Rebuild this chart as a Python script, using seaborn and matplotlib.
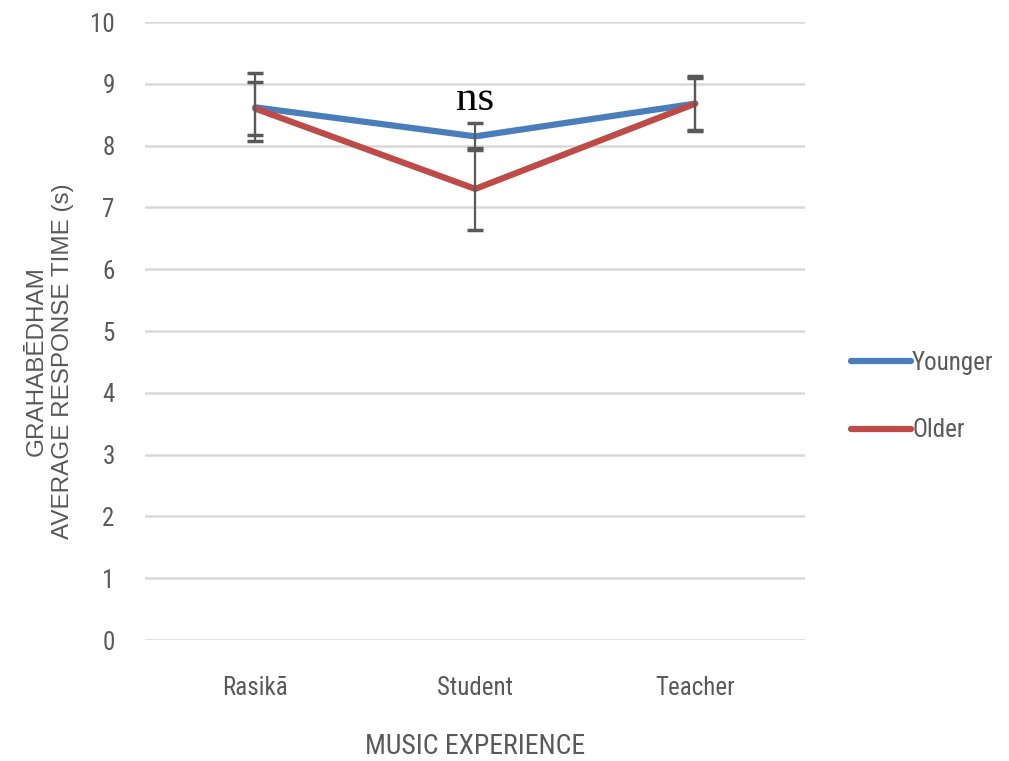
import numpy as np
import pandas as pd
import seaborn as sns
import matplotlib.pyplot as plt
from matplotlib.font_manager import FontProperties

# values
categories = ['Rasikā', 'Student', 'Teacher']
younger_mean = [8.62, 8.15, 8.68]
younger_err = [0.55, 0.22, 0.42]
older_mean = [8.60, 7.30, 8.68]
older_err = [0.43, 0.66, 0.44]
y_ticks = list(range(0, 11))

sns.set_theme(style='white')
plt.rcParams['font.family'] = ['Roboto Condensed', 'DejaVu Sans']

df = pd.DataFrame({
    'experience': categories * 2,
    'time': younger_mean + older_mean,
    'group': ['Younger'] * 3 + ['Older'] * 3,
})

blue = '#4a7ebb'
red = '#be4b48'
grey = '#595959'

fig = plt.figure(figsize=(10.09, 7.61), dpi=100)
ax = fig.add_axes([0.144, 0.159, 0.654, 0.812])

sns.lineplot(data=df, x='experience', y='time', hue='group',
             palette={'Younger': blue, 'Older': red}, linewidth=4.5,
             sort=False, ax=ax, zorder=3)

x_pos = np.arange(len(categories))
for means, errs in [(younger_mean, younger_err), (older_mean, older_err)]:
    ax.errorbar(x_pos, means, yerr=errs, fmt='none', ecolor=grey,
                elinewidth=1.6, capsize=6, capthick=2.5, zorder=4)

ax.set_xlim(-0.5, 2.5)
ax.set_ylim(0, 10)
ax.set_yticks(y_ticks)
ax.yaxis.grid(True, color='#d9d9d9', linewidth=1.8)
ax.set_axisbelow(True)
for s in ax.spines.values():
    s.set_visible(False)
ax.tick_params(axis='both', length=0, labelsize=18, labelcolor=grey)
ax.tick_params(axis='y', pad=22)
ax.tick_params(axis='x', pad=26)

ax.set_xlabel('MUSIC EXPERIENCE', fontsize=20, color=grey, labelpad=24)
ax.set_ylabel('')
ylab_font = FontProperties(family='Liberation Sans', size=17.5)
fig.text(0.0496, 0.526, 'GRAHABĒDHAM\nAVERAGE RESPONSE TIME (s)', rotation=90,
         ha='center', va='center', color=grey,
         fontproperties=ylab_font, linespacing=1.25)

ns_font = FontProperties(family='Liberation Serif', size=31)
ax.text(1, 8.75, 'ns', ha='center', va='center', color='black',
        fontproperties=ns_font)

ax.get_legend().remove()
handles, labels = ax.get_legend_handles_labels()
fig.legend(handles, labels, loc='center left', bbox_to_anchor=(0.821, 0.479),
           frameon=False, fontsize=18, handlelength=2.4, handletextpad=0.05,
           labelspacing=1.75, labelcolor=grey)

fig.savefig('out.png', dpi=100)
